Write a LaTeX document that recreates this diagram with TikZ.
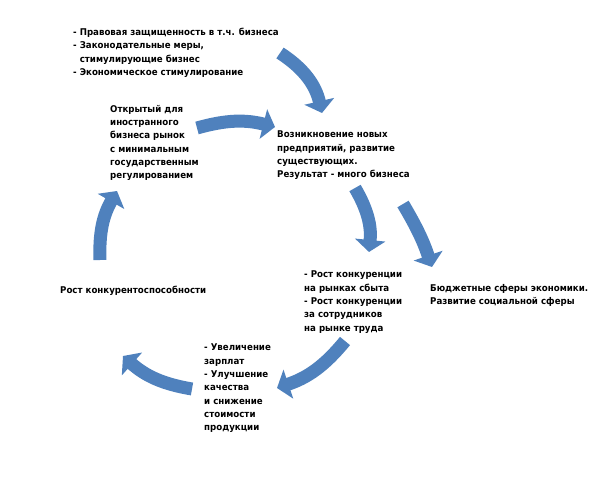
\documentclass[tikz,border=0pt]{standalone}
\usepackage{fontspec}
\setmainfont{DejaVu Sans}[FakeStretch=0.93]
\usepackage{xcolor}
\definecolor{CycleBlue}{HTML}{4F81BD}
\usetikzlibrary{arrows.meta}

\begin{document}
\begin{tikzpicture}[x=1pt,y=-1pt,
  txt/.style={anchor=north west,inner sep=0pt,align=left,font=\bfseries\fontsize{9.3}{13.3}\selectfont},
  flow/.style={draw=CycleBlue,line width=13pt,-{Triangle[length=12pt,width=30pt]}}]
\useasboundingbox (0,0) rectangle (604,494);
% texts
\node[txt] (prereq) at (73,28) {- Правовая защищенность в т.ч. бизнеса\\- Законодательные меры,\\\phantom{- }стимулирующие бизнес\\- Экономическое стимулирование};
\node[txt] (openmkt) at (110,105) {Открытый для\\иностранного\\бизнеса рынок\\с минимальным\\государственным\\регулированием};
\node[txt] (newbiz) at (277,131) {Возникновение новых\\предприятий, развитие\\существующих.\\Результат - много бизнеса};
\node[txt] (rivalry) at (304,271) {- Рост конкуренции\\на рынках сбыта\\- Рост конкуренции\\за сотрудников\\на рынке труда};
\node[txt] (budget) at (430,284) {Бюджетные сферы экономики.\\Развитие социальной сферы};
\node[txt] (wages) at (204,344) {- Увеличение\\зарплат\\- Улучшение\\качества\\и снижение\\стоимости\\продукции};
\node[txt] (compet) at (60,286) {Рост конкурентоспособности};
% arrow ends
\coordinate (a1) at (280,53);  \coordinate (b1) at (322,113);
\coordinate (a2) at (197,128); \coordinate (b2) at (275,127);
\coordinate (a3) at (355,188); \coordinate (b3) at (369,252);
\coordinate (a4) at (403,204); \coordinate (b4) at (432,267);
\coordinate (a5) at (345,341); \coordinate (b5) at (277,388);
\coordinate (a6) at (192,389); \coordinate (b6) at (123,356);
\coordinate (a7) at (100,260); \coordinate (b7) at (117,191);
\draw[flow] (a1) to[bend left=22] (b1);
\draw[flow] (a2) to[bend left=15] (b2);
\draw[flow] (a3) to[bend left=18] (b3);
\draw[flow] (a4) to[bend left=6] (b4);
\draw[flow] (a5) to[bend left=16] (b5);
\draw[flow] (a6) to[bend left=16] (b6);
\draw[flow] (a7) to[bend left=16] (b7);
\end{tikzpicture}
\end{document}
